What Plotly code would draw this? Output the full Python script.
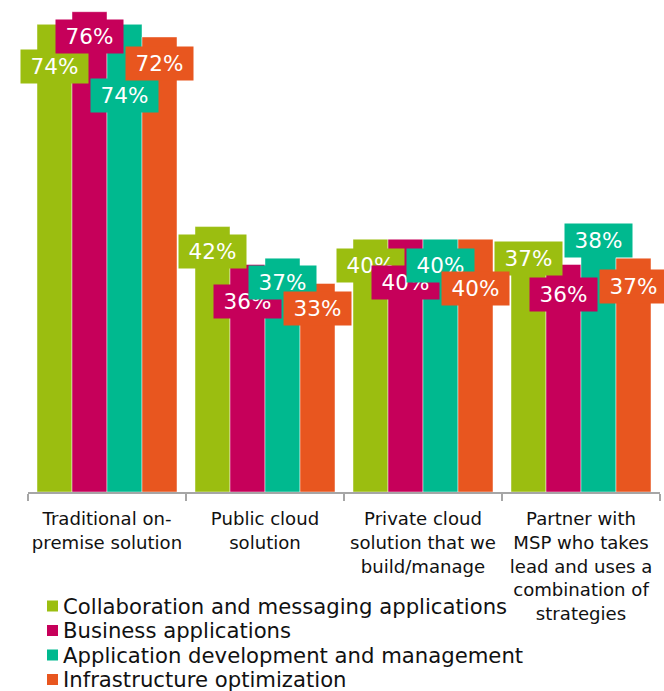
import plotly.graph_objects as go

# ---- data ----
categories = [
    "Traditional on-<br>premise solution",
    "Public cloud<br>solution",
    "Private cloud<br>solution that we<br>build/manage",
    "Partner with<br>MSP who takes<br>lead and uses a<br>combination of<br>strategies",
]
series_names = [
    "Collaboration and messaging applications",
    "Business applications",
    "Application development and management",
    "Infrastructure optimization",
]
collab_values = [74, 42, 40, 37]
business_values = [76, 36, 40, 36]
appdev_values = [74, 37, 40, 38]
infra_values = [72, 33, 40, 37]

# ---- styling ----
colors = ["#9BBE10", "#C6005A", "#00B98F", "#E8561F"]
# vertical offset (px, below bar top) of each data-label box, per series
label_offsets_px = [
    [42, 25, 26, 0],
    [25, 37, 43, 30],
    [71, 24, 26, -11],
    [27, 25, 49, 28],
]
FONT = "DejaVu Sans"
W, H = 664, 691
L, R, T, B = 28, 4, 0, 199
PW, PH = W - L - R, H - T - B
BARGAP = 0.114


def paper_x(px):
    return (px - L) / PW


def paper_y(py):
    return (H - B - py) / PH


all_values = [collab_values, business_values, appdev_values, infra_values]

fig = go.Figure()
for name, vals, col in zip(series_names, all_values, colors):
    fig.add_trace(go.Bar(
        x=categories, y=vals, name=name,
        marker=dict(color=col, line=dict(color="rgba(255,255,255,0.45)", width=1)),
        showlegend=False, hoverinfo="x+y+name",
    ))

annotations = []
bw = (1 - BARGAP) / len(all_values)
for j, (vals, col) in enumerate(zip(all_values, colors)):
    for i, v in enumerate(vals):
        annotations.append(dict(
            x=i + (j - 1.5) * bw, xref="x", y=v, yref="y",
            yshift=-label_offsets_px[j][i],
            text=f"{v}%", showarrow=False,
            bgcolor=col, font=dict(family=FONT, size=21.5, color="white"),
            width=63, height=29, borderpad=2,
            xanchor="center", yanchor="middle",
        ))

# manual legend (compact rows as in the original)
shapes = []
legend_rows_py = [606, 630.5, 655, 679.5]
for name, col, py in zip(series_names, colors, legend_rows_py):
    shapes.append(dict(
        type="rect", xref="paper", yref="paper",
        x0=paper_x(47), x1=paper_x(58), y0=paper_y(py + 5.5), y1=paper_y(py - 5.5),
        fillcolor=col, line=dict(width=0),
    ))
    annotations.append(dict(
        x=paper_x(61), xref="paper", y=paper_y(py), yref="paper",
        text=name, showarrow=False, xanchor="left", yanchor="middle",
        font=dict(family=FONT, size=21.2, color="#111111"),
    ))

fig.update_layout(
    width=W, height=H,
    margin=dict(l=L, r=R, t=T, b=B, pad=0, autoexpand=False),
    paper_bgcolor="white", plot_bgcolor="white",
    barmode="group", bargap=BARGAP, bargroupgap=0,
    font=dict(family=FONT, color="#111111"),
    xaxis=dict(
        range=[-0.5, len(categories) - 0.5], autorange=False,
        showline=True, linecolor="#A6A6A6", linewidth=1.5,
        ticks="outside", tickson="boundaries", ticklen=7, tickcolor="#A6A6A6", tickwidth=1.5,
        tickfont=dict(family=FONT, size=18.1, color="#111111"),
        tickangle=0, automargin=False,
        showgrid=False, zeroline=False, ticklabelstandoff=10,
    ),
    yaxis=dict(range=[0, 77.85], autorange=False, visible=False, showgrid=False, zeroline=False),
    annotations=annotations, shapes=shapes,
    showlegend=False,
)

fig.write_html(
    "out.html",
    config={"displayModeBar": False},
    post_script="document.body.style.margin='0';document.body.style.overflow='hidden';",
)
